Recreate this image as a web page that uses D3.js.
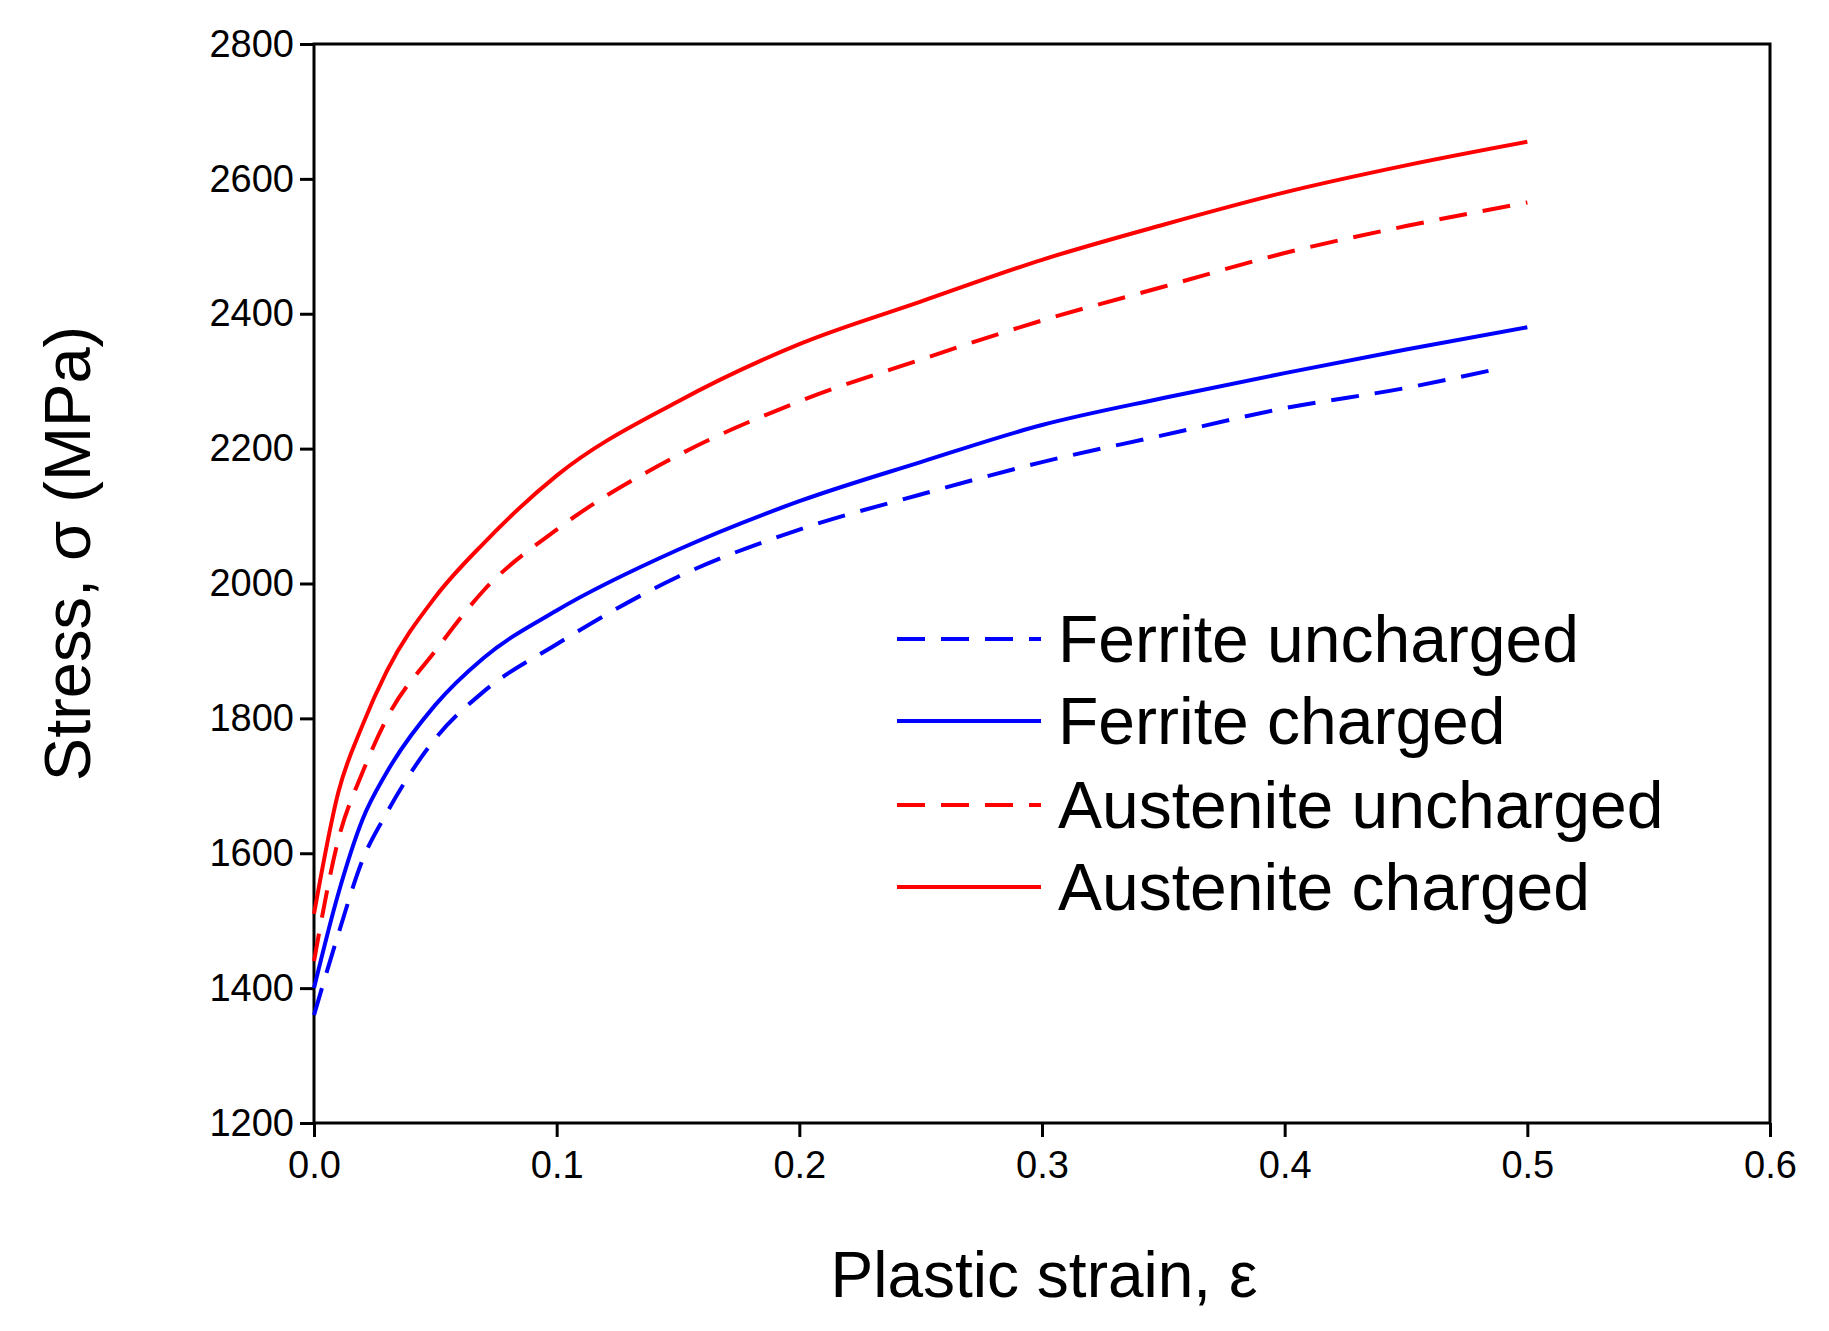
<!DOCTYPE html>
<html><head><meta charset="utf-8">
<script src="https://cdn.jsdelivr.net/npm/d3@7"></script>
<style>body{margin:0;background:#fff}</style>
</head><body>
<script>
const strain = [0, 0.01, 0.02, 0.03, 0.05, 0.07, 0.1, 0.15, 0.2, 0.25, 0.3, 0.35, 0.4, 0.45, 0.5];
const austeniteCharged = [1510, 1690, 1790, 1870, 1980, 2060, 2160, 2270, 2355, 2418, 2480, 2532, 2580, 2620, 2655];
const austeniteUncharged = [1440, 1620, 1720, 1800, 1900, 1990, 2080, 2190, 2270, 2332, 2390, 2440, 2490, 2530, 2565];
const ferriteCharged = [1400, 1540, 1650, 1720, 1820, 1890, 1960, 2050, 2122, 2180, 2235, 2275, 2312, 2347, 2380];
const ferriteUncharged = [1360, 1480, 1590, 1660, 1770, 1840, 1910, 2010, 2080, 2132, 2180, 2220, 2260, 2290, 2320];
const xTicks = [0, 0.1, 0.2, 0.3, 0.4, 0.5, 0.6];
const yTicks = [1200, 1400, 1600, 1800, 2000, 2200, 2400, 2600, 2800];

const series = [
  {name: "Ferrite uncharged", values: ferriteUncharged, color: "#0000ff", dash: "28,16", xs: strain.slice(0, 14).concat([0.49])},
  {name: "Ferrite charged", values: ferriteCharged, color: "#0000ff", dash: null},
  {name: "Austenite uncharged", values: austeniteUncharged, color: "#ff0000", dash: "28,16"},
  {name: "Austenite charged", values: austeniteCharged, color: "#ff0000", dash: null}
];

const W = 1829, H = 1331;
const m = {left: 314, right: 1770, top: 44, bottom: 1123};
const svg = d3.select("body").append("svg").attr("width", W).attr("height", H);
const font = "'Liberation Sans', Arial, sans-serif";

const x = d3.scaleLinear().domain([0, 0.6]).range([m.left, m.right]);
const y = d3.scaleLinear().domain([1200, 2800]).range([m.bottom, m.top]);

svg.append("rect").attr("x", m.left).attr("y", m.top)
  .attr("width", m.right - m.left).attr("height", m.bottom - m.top)
  .attr("fill", "none").attr("stroke", "#000").attr("stroke-width", 3);

const xa = svg.append("g").attr("transform", `translate(0,${m.bottom})`)
  .call(d3.axisBottom(x).tickValues(xTicks).tickFormat(d3.format(".1f")).tickSize(14).tickPadding(14));
const ya = svg.append("g").attr("transform", `translate(${m.left},0)`)
  .call(d3.axisLeft(y).tickValues(yTicks).tickFormat(d3.format("d")).tickSize(14).tickPadding(6));
[xa, ya].forEach(a => {
  a.select(".domain").remove();
  a.selectAll("line").attr("stroke", "#000").attr("stroke-width", 3);
  a.selectAll("text").attr("font-family", font).attr("font-size", 38).attr("fill", "#000");
});

const line = d3.line().curve(d3.curveMonotoneX);
series.forEach(s => {
  const xs = s.xs || strain;
  svg.append("path")
    .attr("d", line(s.values.map((v, i) => [x(xs[i]), y(v)])))
    .attr("fill", "none").attr("stroke", s.color).attr("stroke-width", 4)
    .attr("stroke-dasharray", s.dash);
});

// legend
const legY = [639, 721, 805, 887];
series.forEach((s, i) => {
  svg.append("line").attr("x1", 897).attr("x2", 1041).attr("y1", legY[i]).attr("y2", legY[i])
    .attr("stroke", s.color).attr("stroke-width", 4).attr("stroke-dasharray", s.dash);
  svg.append("text").attr("x", 1058).attr("y", legY[i] + 23).text(s.name)
    .attr("font-family", font).attr("font-size", 66).attr("fill", "#000");
});

svg.append("text").attr("x", (m.left + m.right) / 2 + 2).attr("y", 1297)
  .attr("text-anchor", "middle").attr("font-family", font).attr("font-size", 64)
  .text("Plastic strain, ε");
svg.append("text").attr("transform", `translate(90,${(m.top + m.bottom) / 2 - 30}) rotate(-90)`)
  .attr("text-anchor", "middle").attr("font-family", font).attr("font-size", 65)
  .text("Stress, σ (MPa)");
</script>
</body></html>
